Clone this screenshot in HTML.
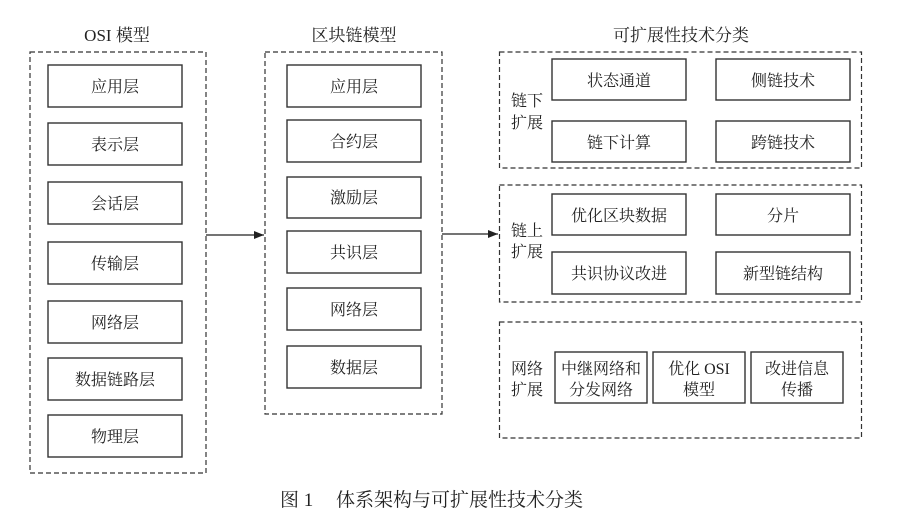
<!DOCTYPE html>
<html><head><meta charset="utf-8">
<style>
html,body{margin:0;padding:0;background:#fff;}
svg{display:block;}
text{font-family:"Liberation Serif","Noto Serif CJK SC",serif;fill:#222;}
</style></head>
<body>
<svg width="903" height="532" viewBox="0 0 903 532" xmlns="http://www.w3.org/2000/svg">
<defs>
<marker id="ar" markerWidth="10" markerHeight="8" refX="10" refY="4" orient="auto" markerUnits="userSpaceOnUse">
<path d="M0,0 L10,4 L0,8 Z" fill="#222"/>
</marker>
</defs>
<g fill="none" stroke="#333" stroke-width="1.2" stroke-dasharray="5,3">
<rect x="30" y="52" width="176" height="421"/>
<rect x="265" y="52" width="177" height="362"/>
<rect x="499.5" y="52" width="362" height="116"/>
<rect x="499.5" y="185" width="362" height="117"/>
<rect x="499.5" y="322" width="362" height="116"/>
</g>
<g fill="#fff" stroke="#333" stroke-width="1.4">
<rect x="48" y="65" width="134" height="42"/>
<rect x="48" y="123" width="134" height="42"/>
<rect x="48" y="182" width="134" height="42"/>
<rect x="48" y="242" width="134" height="42"/>
<rect x="48" y="301" width="134" height="42"/>
<rect x="48" y="358" width="134" height="42"/>
<rect x="48" y="415" width="134" height="42"/>
<rect x="287" y="65" width="134" height="42"/>
<rect x="287" y="120" width="134" height="42"/>
<rect x="287" y="177" width="134" height="41"/>
<rect x="287" y="231" width="134" height="42"/>
<rect x="287" y="288" width="134" height="42"/>
<rect x="287" y="346" width="134" height="42"/>
<rect x="552" y="59" width="134" height="41"/>
<rect x="716" y="59" width="134" height="41"/>
<rect x="552" y="121" width="134" height="41"/>
<rect x="716" y="121" width="134" height="41"/>
<rect x="552" y="194" width="134" height="41"/>
<rect x="716" y="194" width="134" height="41"/>
<rect x="552" y="252" width="134" height="42"/>
<rect x="716" y="252" width="134" height="42"/>
<rect x="555" y="352" width="92" height="51"/>
<rect x="653" y="352" width="92" height="51"/>
<rect x="751" y="352" width="92" height="51"/>
</g>
<g stroke="#222" stroke-width="1.3">
<line x1="206" y1="235" x2="264" y2="235" marker-end="url(#ar)"/>
<line x1="442" y1="234" x2="498" y2="234" marker-end="url(#ar)"/>
</g>
<g font-size="17" text-anchor="middle">
<text x="117" y="41">OSI 模型</text>
<text x="354" y="41">区块链模型</text>
<text x="681" y="41">可扩展性技术分类</text>
</g>
<g font-size="16" text-anchor="middle">
<text x="115" y="92">应用层</text>
<text x="115" y="150">表示层</text>
<text x="115" y="209">会话层</text>
<text x="115" y="269">传输层</text>
<text x="115" y="328">网络层</text>
<text x="115" y="385">数据链路层</text>
<text x="115" y="442">物理层</text>
<text x="354" y="92">应用层</text>
<text x="354" y="147">合约层</text>
<text x="354" y="203">激励层</text>
<text x="354" y="258">共识层</text>
<text x="354" y="315">网络层</text>
<text x="354" y="373">数据层</text>
<text x="619" y="86">状态通道</text>
<text x="783" y="86">侧链技术</text>
<text x="619" y="148">链下计算</text>
<text x="783" y="148">跨链技术</text>
<text x="619" y="221">优化区块数据</text>
<text x="783" y="221">分片</text>
<text x="619" y="279">共识协议改进</text>
<text x="783" y="279">新型链结构</text>
<text x="601" y="374">中继网络和</text>
<text x="601" y="395">分发网络</text>
<text x="699" y="374">优化 OSI</text>
<text x="699" y="395">模型</text>
<text x="797" y="374">改进信息</text>
<text x="797" y="395">传播</text>
<text x="527" y="106">链下</text>
<text x="527" y="128">扩展</text>
<text x="527" y="236">链上</text>
<text x="527" y="257">扩展</text>
<text x="527" y="374">网络</text>
<text x="527" y="395">扩展</text>
</g>
<text x="280" y="506" font-size="19">图 1</text>
<text x="336" y="506" font-size="19">体系架构与可扩展性技术分类</text>
</svg>
</body></html>
